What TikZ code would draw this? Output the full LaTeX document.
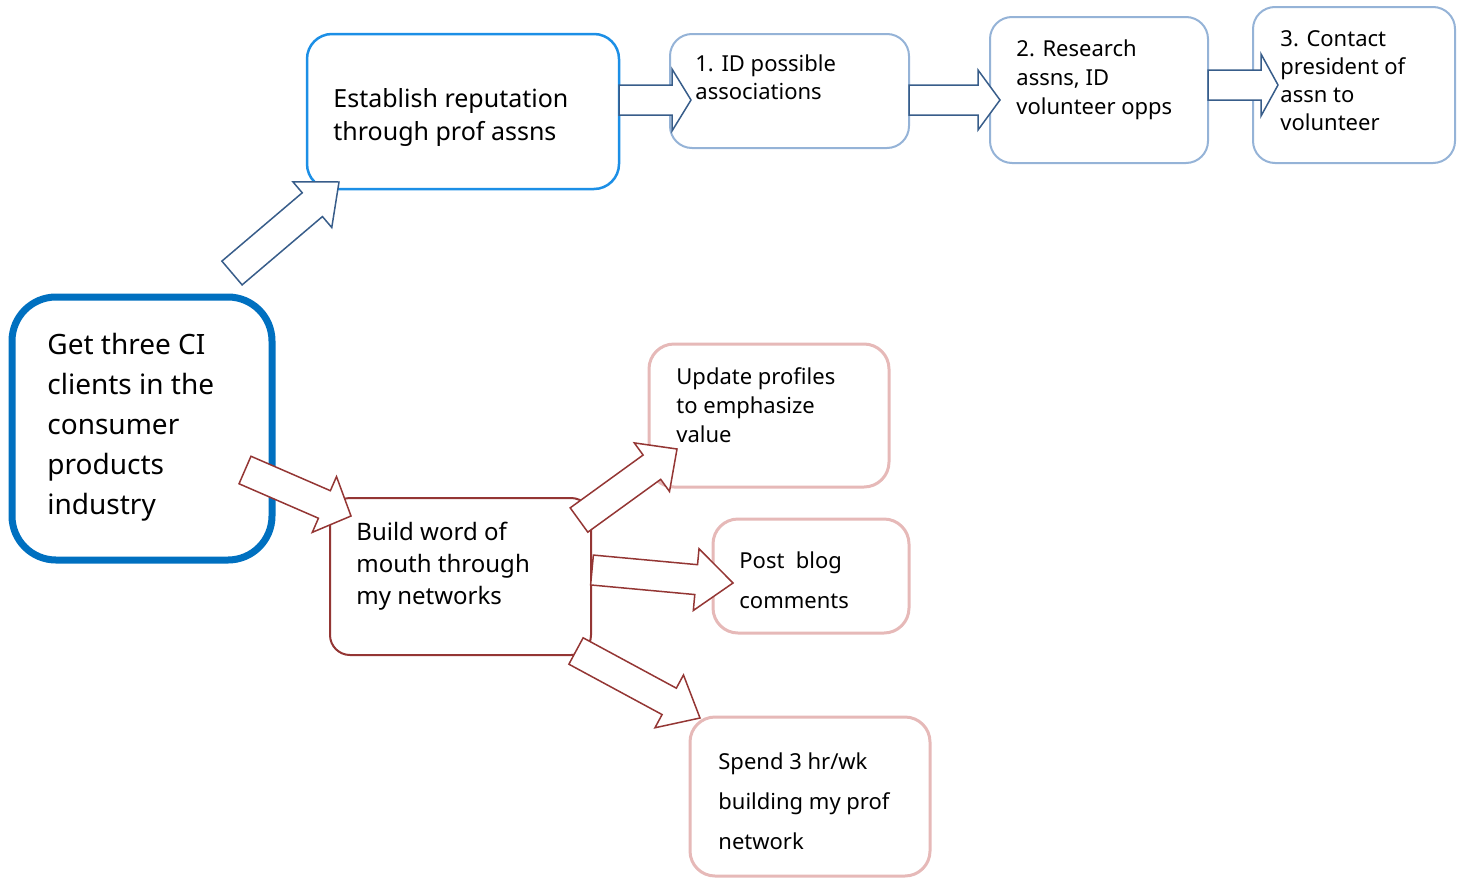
\documentclass[tikz,border=0pt]{standalone}
\usepackage{xcolor}
\usepackage{fontspec}
\setmainfont{Noto Sans}
\usepackage{tikz}
\usetikzlibrary{calc}

\definecolor{goalblue}{HTML}{0070C0}
\definecolor{repblue}{HTML}{1C8FE6}
\definecolor{stepblue}{HTML}{95B3D7}
\definecolor{arrblue}{HTML}{385D8A}
\definecolor{netred}{HTML}{943634}
\definecolor{pinkline}{HTML}{E6B9B8}

% block arrow: tail, tip, shaft half width, head half width, head length
\newcommand{\blockarrow}[6][blkblue]{
  \coordinate (hb) at ($(#3)!#6!(#2)$);
  \filldraw [#1] ($(#2)!#4!90:(#3)$) -- ($(hb)!#4!-90:(#2)$)
  -- ($(hb)!#5!-90:(#2)$) -- (#3) -- ($(hb)!#5!90:(#2)$)
  -- ($(hb)!#4!90:(#2)$) -- ($(#2)!#4!-90:(#3)$) -- cycle;
}

\begin{document}
\begin{tikzpicture}[x=0.5pt, y=-0.5pt,
    box/.style={draw, fill=white, inner sep=0pt},
    goalbox/.style={box, draw=goalblue, line width=3.5pt, rounded corners=22pt},
    repbox/.style={box, draw=repblue, line width=1.25pt, rounded corners=12.5pt},
    stepbox/.style={box, draw=stepblue, line width=1pt, rounded corners=11pt},
    netbox/.style={box, draw=netred, line width=1pt, rounded corners=10pt},
    pinkbox/.style={box, draw=pinkline, line width=1.5pt, rounded corners=12.5pt},
    txt/.style={anchor=north west, inner sep=0pt, align=left},
    blkblue/.style={draw=arrblue, fill=white, line width=0.75pt, line join=miter},
    blkred/.style={draw=netred, fill=white, line width=0.75pt, line join=miter}]

    \useasboundingbox (0,0) rectangle (1465,878);

    % boxes
    \node [goalbox, minimum width=130pt, minimum height=131.5pt] (goal) at (142,428.5) {};
    \node [repbox, minimum width=156pt, minimum height=77.5pt] (rep) at (463,111.5) {};
    \node [stepbox, minimum width=119.5pt, minimum height=57pt] (idassn) at (789.5,91) {};
    \node [stepbox, minimum width=109pt, minimum height=73pt] (research) at (1099,90) {};
    \node [stepbox, minimum width=101pt, minimum height=78pt] (contact) at (1354,85) {};
    \node [netbox, minimum width=130.5pt, minimum height=78.5pt] (build) at (460.5,576.5) {};
    \node [pinkbox, minimum width=120pt, minimum height=71.5pt] (update) at (769,415.5) {};
    \node [pinkbox, minimum width=98pt, minimum height=57pt] (post) at (811,576) {};
    \node [pinkbox, minimum width=120pt, minimum height=79.5pt] (spend) at (810,796.5) {};

    % texts
    \node [txt, font=\fontsize{14}{20}\selectfont] (goal-t) at (47,333)
      {Get three CI\\clients in the\\consumer\\products\\industry};
    \node [txt, font=\fontsize{12.5}{16.5}\selectfont] (rep-t) at (333,88)
      {Establish reputation\\through prof assns};
    \node [txt, font=\fontsize{11}{14}\selectfont] (idassn-t) at (695,54)
      {1. ID possible\\associations};
    \node [txt, font=\fontsize{11}{14.5}\selectfont] (research-t) at (1016,39)
      {2. Research\\assns, ID\\volunteer opps};
    \node [txt, font=\fontsize{11}{14}\selectfont] (contact-t) at (1280,30)
      {3. Contact\\president of\\assn to\\volunteer};
    \node [txt, font=\fontsize{12}{16}\selectfont] (build-t) at (356,522)
      {Build word of\\mouth through\\my networks};
    \node [txt, font=\fontsize{11}{14.5}\selectfont] (update-t) at (676,367)
      {Update profiles\\to emphasize\\value};
    \node [txt, font=\fontsize{11}{20}\selectfont] (post-t) at (739,551)
      {Post\ \ blog\\comments};
    \node [txt, font=\fontsize{11}{20}\selectfont] (spend-t) at (718,752)
      {Spend 3 hr/wk\\building my prof\\network};

    % arrows
    \blockarrow{232,273}{339,182}{7.8pt}{15pt}{17.5pt}
    \blockarrow{619,100}{691,100}{7.5pt}{15.5pt}{9.5pt}
    \blockarrow{909,100}{1000,100}{7.5pt}{15pt}{11pt}
    \blockarrow{1208,85}{1278,85}{7.5pt}{15.5pt}{8.5pt}
    \blockarrow[blkred]{245,470}{351,516}{7.5pt}{15.2pt}{14.5pt}
    \blockarrow[blkred]{579,520}{677,449}{7.5pt}{15pt}{15.5pt}
    \blockarrow[blkred]{592,570}{733,583}{7.5pt}{15.5pt}{18.5pt}
    \blockarrow[blkred]{576,651}{700,718}{7.5pt}{15pt}{17.5pt}

  \end{tikzpicture}
\end{document}
